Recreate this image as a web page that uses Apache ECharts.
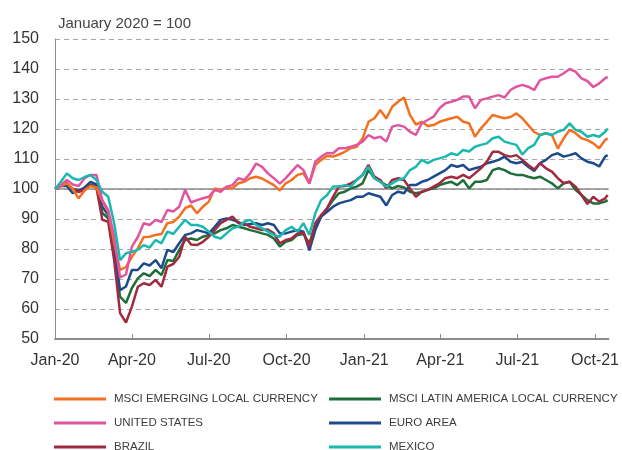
<!doctype html>
<html>
<head>
    <meta charset="utf-8">
    <title>Equity indices, January 2020 = 100</title>
    <script src="https://cdn.jsdelivr.net/npm/echarts@6/dist/echarts.min.js"></script>
    <style>
        html, body { margin: 0; padding: 0; background: #fff; }
        #chart { width: 622px; height: 450px; }
    </style>
</head>
<body>
<div id="chart"></div>
<script type="text/javascript">

    // weekly observations from 1 Jan 2020, plus the last reading
    var startDate = '2020-01-01';
    var lastDate = '2021-10-16';
    var endDate = '2021-10-17';

    var tickDates = ['2020-01-01', '2020-04-01', '2020-07-01', '2020-10-01', '2021-01-01', '2021-04-01', '2021-07-01', '2021-10-01'];
    var tickLabels = ['Jan-20', 'Apr-20', 'Jul-20', 'Oct-20', 'Jan-21', 'Apr-21', 'Jul-21', 'Oct-21'];

    var emLocal = [100, 101, 101.9, 100, 96.9, 99.5, 101, 100.5, 96, 92.4, 82, 73, 74, 77.4, 80.2, 84, 84.1, 84.7, 85, 88.6,
        89, 90.8, 93.6, 94.5, 91.9, 94.1, 95.8, 100.2, 99.7, 100.5, 100.2, 101.9, 102.4, 103.6, 104.1, 103.5, 102.4, 101.3, 99.5, 101.9,
        103, 104.7, 105.2, 101.9, 108, 109.7, 111, 110.8, 111.5, 112.4, 113.6, 114.1, 116.9, 122.4, 123.6, 126.3, 123.5, 127.4, 129.1, 130.5,
        124.7, 121.5, 122.4, 121, 121.3, 122.4, 123, 123.6, 124.1, 122.4, 121.9, 117.4, 120.2, 122.4, 124.7, 124.1, 123.6, 124, 125.2, 123.6,
        121.3, 119, 118, 118.6, 118, 113.5, 116.9, 119.7, 118.6, 116.9, 116.3, 115.2, 113.6, 116.3, 116.9];
    var latamLocal = [100, 101, 101.5, 100, 99.5, 100, 101.3, 101, 92, 90.2, 77.4, 64.1, 62, 67, 70.2, 71.9, 71, 73, 71.3, 76.3,
        76, 79.7, 83, 83.5, 83, 84.1, 84.7, 85.2, 86.3, 86.9, 88, 87.4, 86.9, 86.3, 85.8, 85.2, 84.7, 83.5, 80.8, 82.4,
        83, 84.7, 85, 81.9, 88, 90.8, 93.5, 96.3, 98.6, 99.1, 100.2, 100.8, 101.9, 106.3, 103.6, 102.4, 101.3, 100.2, 101, 100.5,
        99.1, 98.6, 99, 99.7, 100.2, 101.3, 101.9, 102.4, 101.3, 103, 100.2, 102.4, 102.4, 103, 106.3, 106.9, 106.3, 105.2, 104.7, 104.7,
        104.1, 103.6, 104.1, 103, 101.9, 100.2, 101.9, 102.4, 99.7, 98, 96.3, 95.2, 95.2, 95.8, 96.3];
    var unitedStates = [100, 101.3, 103, 101.5, 101, 103.6, 104.7, 104.7, 96.3, 93, 84.1, 70.5, 71.5, 80.8, 84, 88.6, 88, 89.7, 89, 93,
        92.5, 94.1, 99.7, 95.5, 96.3, 96.9, 97.4, 99.7, 99.1, 100.8, 101.3, 103.6, 103, 105.2, 108.5, 107.4, 105.2, 103.6, 101.8, 103.6,
        105.8, 108, 106.3, 101.9, 109.1, 110.8, 112, 111.9, 113.6, 113.6, 114.1, 114.7, 115.8, 118, 116.9, 117.4, 115.8, 120.8, 121.3, 120.8,
        119.1, 118, 121.9, 123, 124.1, 126.9, 128.6, 129.1, 129.7, 130.8, 130.8, 126.9, 129.7, 130.2, 130.8, 131.3, 130.5, 133, 134.1, 134.7,
        134.1, 133, 136.3, 136.9, 137.4, 137.4, 138.6, 140, 139.1, 136.9, 136, 134, 135.2, 136.9, 137.4];
    var euroArea = [100, 101, 101, 98.6, 99.5, 100.5, 102.4, 101.5, 94.1, 91.3, 80.8, 66.3, 67.5, 73, 73, 75.2, 74.5, 76.3, 73.6, 79.7,
        79, 81.9, 84.7, 85.2, 86.3, 85.8, 85.2, 87.4, 89.7, 90.2, 89.7, 89, 88, 88.3, 88.6, 88, 88.6, 88, 85.2, 85.2,
        85.8, 86.3, 85.8, 79.5, 86.3, 90.8, 92.4, 94.1, 95.2, 95.8, 96.3, 97.4, 97.4, 98.6, 98, 97.4, 94.5, 98, 99.1, 98.6,
        101.3, 101.3, 102.4, 103, 104.1, 105.2, 106.3, 108, 107.4, 108, 106.3, 106.9, 107.4, 108.6, 109.1, 109.7, 110.8, 109.1, 108.6, 109.1,
        107.4, 106, 108.6, 109.7, 111.3, 111.9, 110.8, 111.3, 111.9, 110.2, 109.1, 108.6, 107.5, 110.8, 111.3];
    var brazil = [100, 101.3, 101.9, 100, 99, 99.7, 101.3, 100.5, 89.7, 89.1, 76.3, 58.6, 55.5, 60.8, 67.4, 68.6, 68, 69.7, 67.4, 74.1,
        75, 77.4, 84.1, 81.5, 81.3, 82.4, 84.1, 86.3, 88.6, 89.7, 90.8, 88.6, 88.5, 87.4, 86.9, 86.3, 86.5, 85.2, 81.9, 83,
        83.5, 85.2, 85.5, 80.8, 88.6, 91.3, 93.6, 97.4, 100.8, 101, 101.9, 103, 104.7, 108, 104.1, 103, 100.2, 103, 103.6, 103,
        100.2, 97.4, 99.1, 99.7, 100.8, 101.9, 103.6, 104.1, 103.6, 104.7, 103.6, 105.2, 106.9, 109.1, 112.4, 112.4, 111.3, 110.8, 111.3, 109.7,
        108, 106.5, 108.6, 106.9, 105.8, 103.6, 101.9, 102.4, 100.8, 98, 95, 97.4, 95.8, 96.9, 98];
    var mexico = [100, 102.4, 105.2, 103.6, 103, 104, 104.7, 103, 99.1, 97.4, 88.6, 76.3, 78.6, 79.1, 79.7, 81.3, 80.5, 83, 81.9, 85.8,
        85, 87.4, 89.7, 88, 88, 87.4, 85.8, 84.1, 83.5, 85.2, 86.9, 87.4, 89.1, 89.7, 88, 86.9, 85.8, 84.7, 84.1, 86.3,
        87.4, 85.8, 88.6, 84.7, 91.9, 96.3, 98, 100.8, 100.8, 101.3, 100.8, 103, 104.7, 107.4, 103.6, 102.4, 100.8, 101.9, 103, 103.6,
        106.3, 107.4, 109.7, 108.6, 109.7, 110.2, 110.8, 111.9, 111.3, 113, 112.5, 114.1, 114.7, 115.2, 116.9, 117.4, 115.8, 115.2, 114.7, 111.5,
        113.6, 114.7, 118, 118.6, 118, 119.1, 119.7, 121.9, 119.7, 119.1, 117.4, 118, 117.4, 119.1, 120.2];

    // x is measured in days since startDate
    var DAY = 86400000;
    function utc(s) {
        var p = s.split('-');
        return Date.UTC(+p[0], +p[1] - 1, +p[2]);
    }
    function dayOf(s) { return Math.round((utc(s) - utc(startDate)) / DAY); }

    var days = [];
    for (var i = 0; i < emLocal.length - 1; i++) days.push(i * 7);
    days.push(dayOf(lastDate));

    var tickDays = tickDates.map(dayOf);

    function pairs(values) {
        return values.map(function (v, i) { return [days[i], v]; });
    }

    var seriesDefs = [
        {name: 'MSCI LATIN AMERICA LOCAL CURRENCY', data: latamLocal, color: '#1f6e3a'},
        {name: 'EURO AREA', data: euroArea, color: '#1c4a8c'},
        {name: 'BRAZIL', data: brazil, color: '#a12a40'},
        {name: 'MSCI EMERGING LOCAL CURRENCY', data: emLocal, color: '#f37021'},
        {name: 'UNITED STATES', data: unitedStates, color: '#e054a0'},
        {name: 'MEXICO', data: mexico, color: '#1ab8ae'}
    ];

    var series = seriesDefs.map(function (s) {
        return {
            name: s.name,
            type: 'line',
            data: pairs(s.data),
            showSymbol: false,
            symbol: 'none',
            color: s.color,
            lineStyle: {width: 2.5, color: s.color},
            z: 3
        };
    });
    // solid reference line at 100
    series[0].markLine = {
        silent: true,
        symbol: 'none',
        label: {show: false},
        lineStyle: {color: '#8c8c8c', width: 1.5, type: 'solid'},
        data: [{yAxis: 100}],
        z: 1
    };

    var legendText = {fontFamily: 'Liberation Sans', fontSize: 11.5, color: '#3c3c3c', lineHeight: 16, padding: [0, 0, 0, 3]};

    var myChart = echarts.init(document.getElementById('chart'), null, {renderer: 'canvas'});
    var option = {
        animation: false,
        backgroundColor: '#fff',
        textStyle: {fontFamily: 'Liberation Sans'},
        title: {
            text: 'January 2020 = 100',
            left: 53,
            top: 11,
            textStyle: {fontFamily: 'Liberation Sans', fontSize: 15, fontWeight: 'normal', color: '#444'}
        },
        grid: {left: 55, right: 10, top: 39, bottom: 111, containLabel: false},
        legend: [
            {
                orient: 'vertical', left: 54, top: 391, height: 64, padding: 0, itemWidth: 52, itemHeight: 3, itemGap: 8,
                icon: 'rect', textStyle: legendText,
                data: ['MSCI EMERGING LOCAL CURRENCY', 'UNITED STATES', 'BRAZIL']
            },
            {
                orient: 'vertical', left: 329, top: 391, height: 64, padding: 0, itemWidth: 52, itemHeight: 3, itemGap: 8,
                icon: 'rect', textStyle: legendText,
                data: ['MSCI LATIN AMERICA LOCAL CURRENCY', 'EURO AREA', 'MEXICO']
            }
        ],
        xAxis: {
            type: 'value',
            min: 0,
            max: dayOf(endDate),
            axisLine: {show: true, onZero: false, lineStyle: {color: '#8c8c8c', width: 2}},
            axisTick: {show: true, inside: true, length: 5, customValues: tickDays, lineStyle: {color: '#8c8c8c', width: 1}},
            axisLabel: {
                customValues: tickDays,
                margin: 14,
                fontSize: 16,
                color: '#333',
                fontFamily: 'Liberation Sans',
                formatter: function (v) {
                    var idx = tickDays.indexOf(v);
                    return idx >= 0 ? tickLabels[idx] : '';
                }
            },
            splitLine: {show: false}
        },
        yAxis: {
            type: 'value',
            min: 50,
            max: 150,
            interval: 10,
            axisLine: {show: true, lineStyle: {color: '#8c8c8c', width: 1}},
            axisTick: {show: false},
            axisLabel: {fontSize: 16, color: '#333', margin: 16, fontFamily: 'Liberation Sans'},
            splitLine: {show: true, lineStyle: {color: '#a6a6a6', type: [5, 4], width: 1}}
        },
        series: series
    };

    myChart.setOption(option);

</script>
</body>
</html>
